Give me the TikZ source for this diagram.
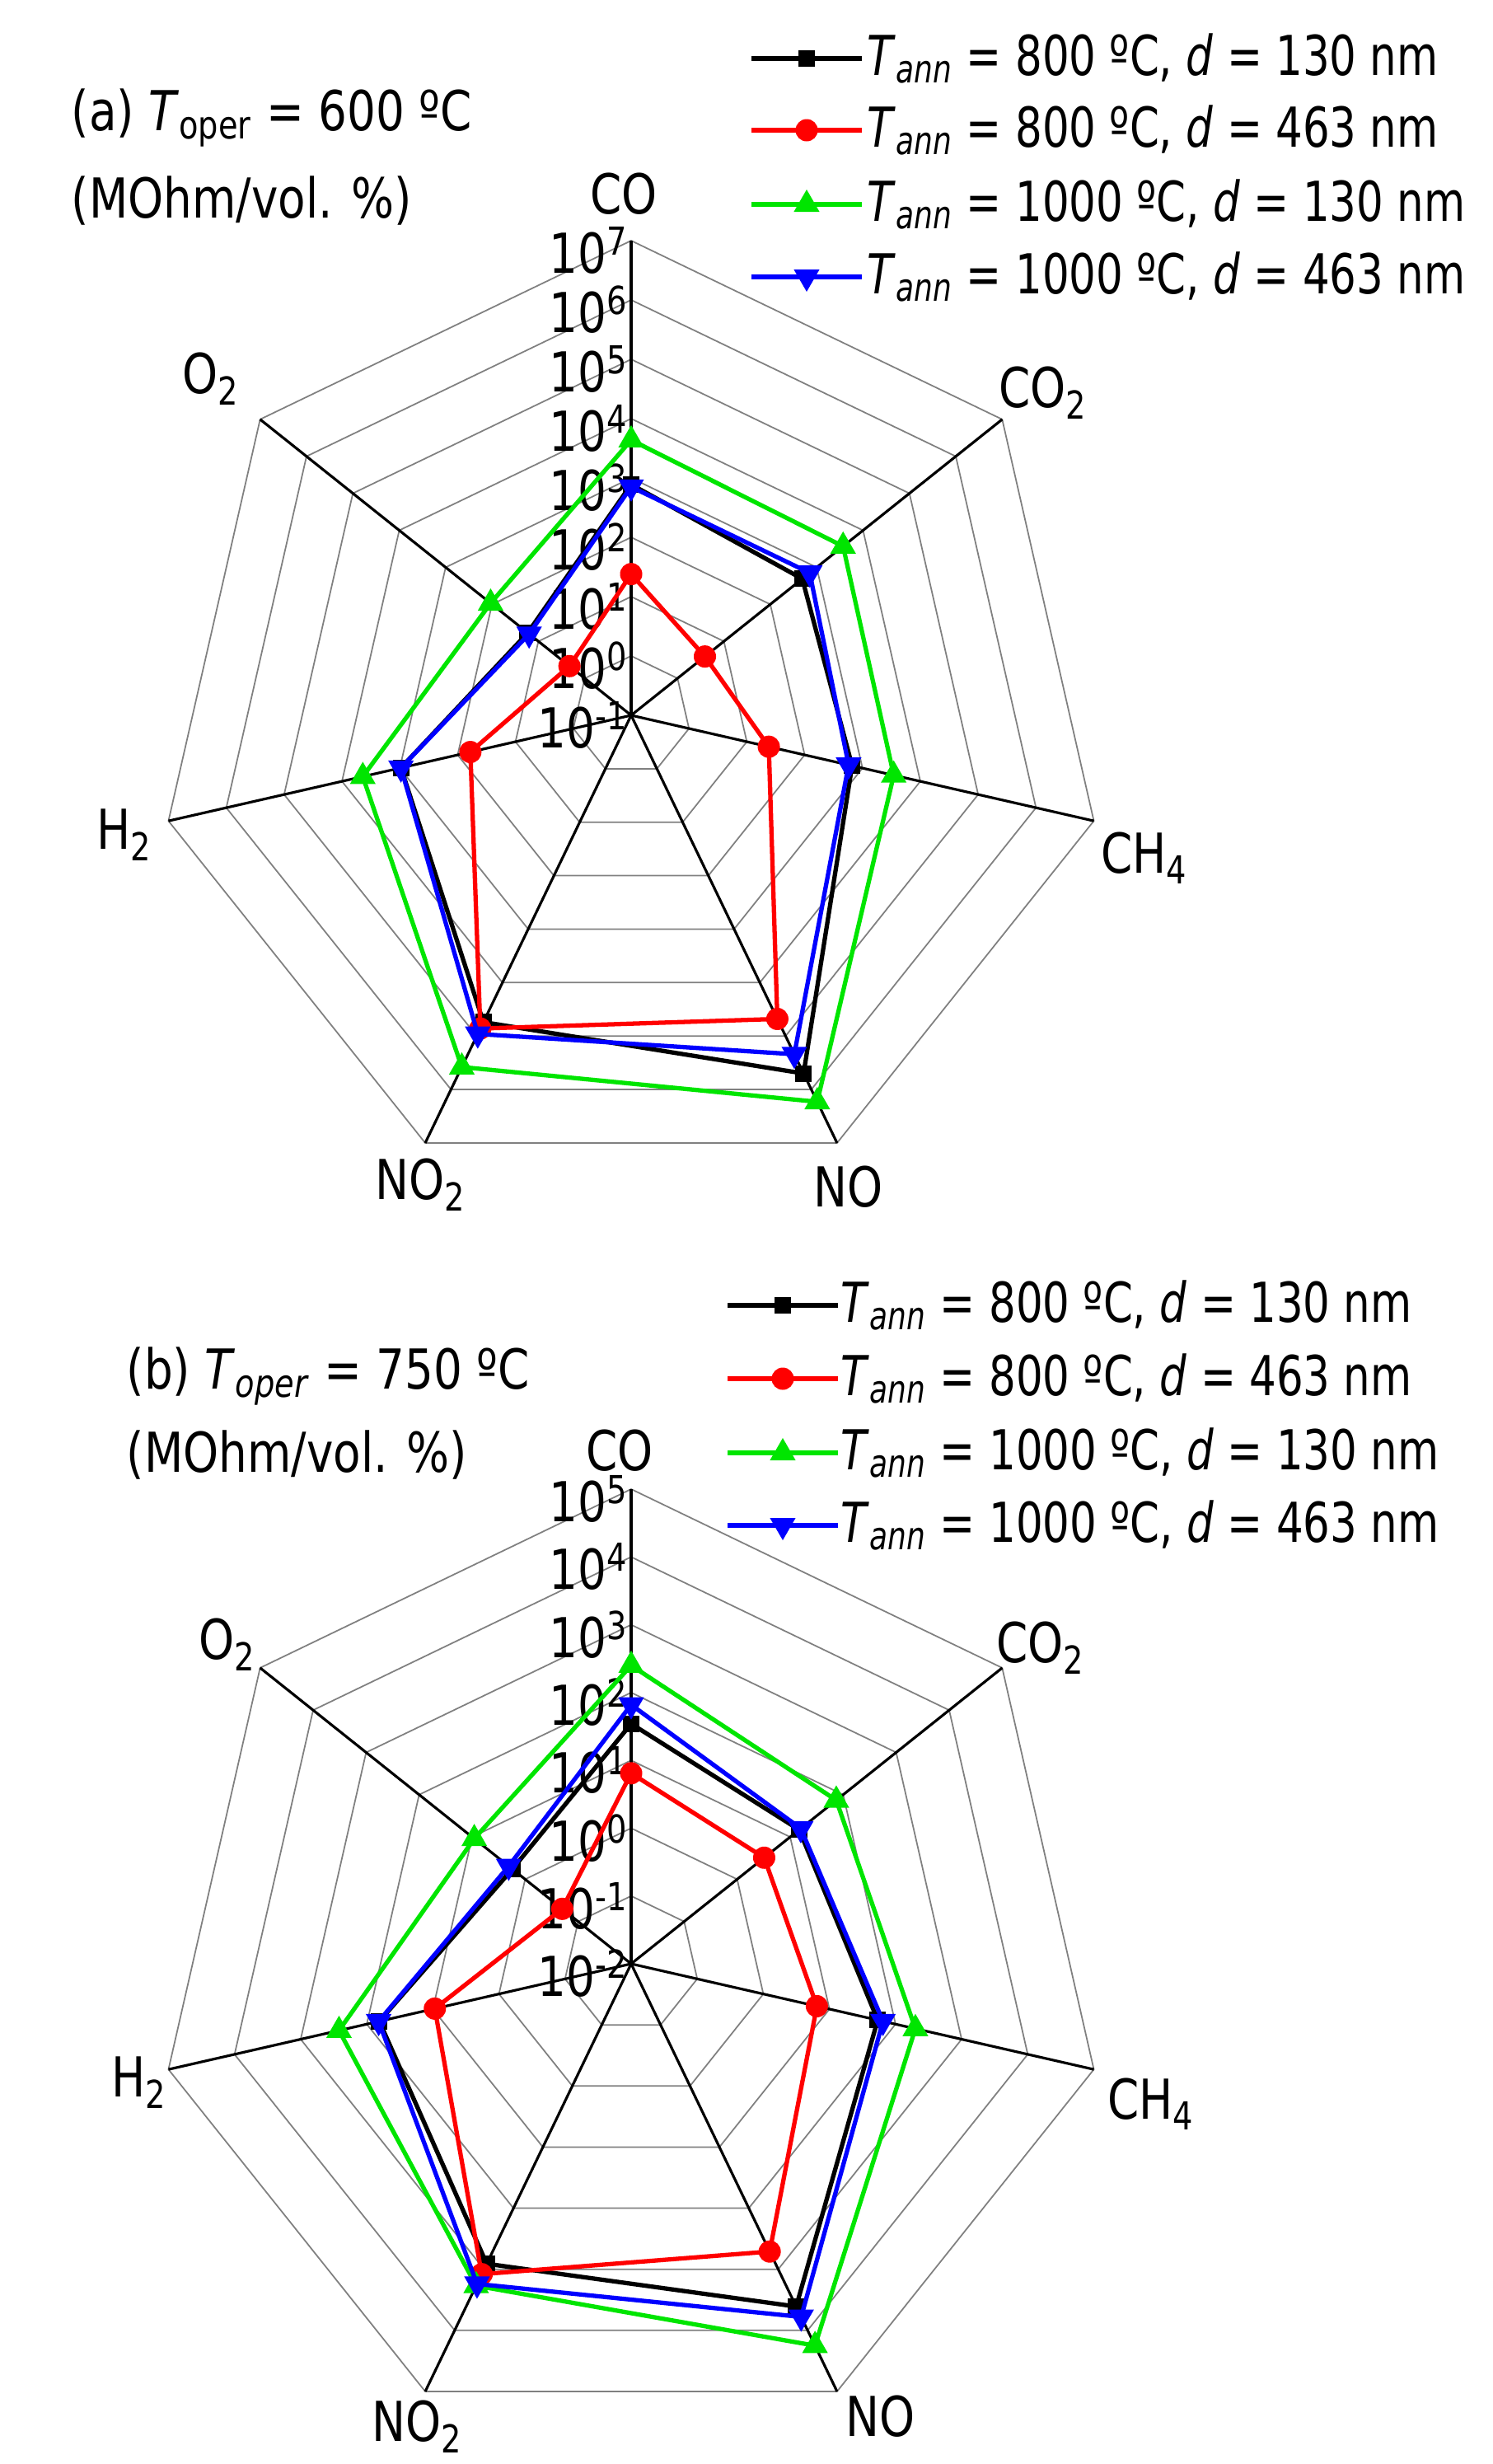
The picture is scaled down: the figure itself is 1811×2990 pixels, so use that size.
\documentclass[tikz,border=0pt]{standalone}
\usepackage{fontspec}
\setmainfont{DejaVu Sans}
\usetikzlibrary{shapes.geometric}
\newcommand\sq[1]{\scalebox{0.82}[1]{#1}}
\newcommand\sqL[1]{\scalebox{0.77}[1]{#1}}
\tikzset{
  lab/.style={font=\fontsize{19}{23}\selectfont, inner sep=0pt},
  gridc/.style={draw=gray, line width=0.5pt},
  axisc/.style={draw=black, line width=0.9pt},
  sb/.style={draw=black, line width=1.5pt, line join=round},
  sr/.style={draw=red, line width=1.5pt, line join=round},
  sg/.style={draw=green!90!black, line width=1.5pt, line join=round},
  su/.style={draw=blue, line width=1.5pt, line join=round},
  sbm/.style={rectangle, fill=black, minimum size=0.2cm, inner sep=0pt},
  srm/.style={circle, fill=red, minimum size=0.27cm, inner sep=0pt},
  sgm/.style={regular polygon, regular polygon sides=3, fill=green!90!black, minimum size=0.36cm, inner sep=0pt},
  sum/.style={regular polygon, regular polygon sides=3, shape border rotate=180, fill=blue, minimum size=0.36cm, inner sep=0pt},
}
\newcommand\myseries[3]{%
  \foreach \v [count=\i from 0] in {#3} {\coordinate (#1\i) at ({90-\i*360/7}:\v);}
  \draw[#2] (#10) -- (#11) -- (#12) -- (#13) -- (#14) -- (#15) -- (#16) -- cycle;
  \foreach \i in {0,...,6} {\node[#2m] at (#1\i) {};}
}
\newcommand\myradar[4]{% #1 prefix, #2 center y, #3 number of decades, #4 lowest exponent
  \begin{scope}[shift={(766,#2)}, x={(576/#3*0.01cm,0)}, y={(0,576/#3*0.01cm)}]
    \coordinate (#1c) at (0,0);
    \foreach \k in {1,...,#3} {
      \draw[gridc] (90:\k) \foreach \i in {1,...,6} { -- ({90-\i*360/7}:\k) } -- cycle;
    }
    \foreach \i in {0,...,6} {
      \coordinate (#1v\i) at ({90-\i*360/7}:#3);
      \draw[axisc] (#1c) -- (#1v\i);
    }
    \foreach \k in {0,...,#3} {
      \pgfmathtruncatemacro\ex{\k+#4}
      \node[lab, anchor=east, xshift=-0.03cm, yshift=-0.12cm] (#1t\k) at (0,\k) {\sq{10\textsuperscript{\ex}}};
    }
  \end{scope}
}
\begin{document}
\begin{tikzpicture}[x=0.01cm, y=-0.01cm]
\useasboundingbox (0,0) rectangle (1811,2990);
% ---------- (a)
\myradar{a}{868}{8}{-1}
\begin{scope}[shift={(766,868)}, x={(72*0.01cm,0)}, y={(0,72*0.01cm)}]
  \myseries{ab}{sb}{3.89,3.69,3.82,6.70,5.74,3.98,2.23}
  \myseries{ar}{sr}{2.38,1.59,2.38,5.68,5.86,2.78,1.33}
  \myseries{ag}{sg}{4.64,4.57,4.54,7.23,6.58,4.64,3.03}
  \myseries{au}{su}{3.85,3.85,3.76,6.34,5.96,3.98,2.20}
\end{scope}
\node[lab] (aCO) at (757,235) {\sq{CO}};
\node[lab] (aCO2) at (1266,477) {\sq{CO\textsubscript{2}}};
\node[lab] (aCH4) at (1389,1041) {\sq{CH\textsubscript{4}}};
\node[lab] (aNO) at (1030,1440) {\sq{NO}};
\node[lab] (aNO2) at (510,1438) {\sq{NO\textsubscript{2}}};
\node[lab] (aH2) at (151,1013) {\sq{H\textsubscript{2}}};
\node[lab] (aO2) at (256,460) {\sq{O\textsubscript{2}}};
\node[lab, anchor=west] (atitle) at (86,143) {\sq{(a) \textit{T}\textsubscript{oper} = 600 ºC}};
\node[lab, anchor=west] (aunit) at (86,244) {\sq{(MOhm/vol. \%)}};
% legend (a)
\foreach \s/\y/\txt in {sb/71/{\textit{T}\textsubscript{\textit{ann}} = 800 ºC, \textit{d} = 130 nm},
                      sr/158/{\textit{T}\textsubscript{\textit{ann}} = 800 ºC, \textit{d} = 463 nm},
                      sg/248/{\textit{T}\textsubscript{\textit{ann}} = 1000 ºC, \textit{d} = 130 nm},
                      su/336/{\textit{T}\textsubscript{\textit{ann}} = 1000 ºC, \textit{d} = 463 nm}} {
  \coordinate (al\s a) at (912,\y);
  \coordinate (al\s b) at (1046,\y);
  \draw[\s] (al\s a) -- (al\s b);
  \node[\s m] at (979,\y) {};
  \node[lab, anchor=west] at (1052,\y) {\sqL{\txt}};
}
% ---------- (b)
\myradar{b}{2383}{7}{-2}
\begin{scope}[shift={(766,2383)}, x={(576/7*0.01cm,0)}, y={(0,576/7*0.01cm)}]
  \myseries{bb}{sb}{3.54,3.17,3.73,5.61,4.91,3.81,2.24}
  \myseries{br}{sr}{2.81,2.51,2.81,4.71,5.08,2.97,1.30}
  \myseries{bg}{sg}{4.40,3.87,4.30,6.25,5.27,4.42,2.96}
  \myseries{bu}{su}{3.82,3.20,3.81,5.78,5.24,3.82,2.31}
\end{scope}
\node[lab] (bCO) at (752,1760) {\sq{CO}};
\node[lab] (bCO2) at (1263,2000) {\sq{CO\textsubscript{2}}};
\node[lab] (bCH4) at (1397,2553) {\sq{CH\textsubscript{4}}};
\node[lab] (bNO) at (1069,2932) {\sq{NO}};
\node[lab] (bNO2) at (506,2945) {\sq{NO\textsubscript{2}}};
\node[lab] (bH2) at (169,2527) {\sq{H\textsubscript{2}}};
\node[lab] (bO2) at (276,1996) {\sq{O\textsubscript{2}}};
\node[lab, anchor=west] (btitle) at (153,1670) {\sq{(b) \textit{T}\textsubscript{\textit{oper}} = 750 ºC}};
\node[lab, anchor=west] (bunit) at (153,1765) {\sq{(MOhm/vol. \%)}};
\foreach \s/\y/\txt in {sb/1584/{\textit{T}\textsubscript{\textit{ann}} = 800 ºC, \textit{d} = 130 nm},
                      sr/1673/{\textit{T}\textsubscript{\textit{ann}} = 800 ºC, \textit{d} = 463 nm},
                      sg/1763/{\textit{T}\textsubscript{\textit{ann}} = 1000 ºC, \textit{d} = 130 nm},
                      su/1851/{\textit{T}\textsubscript{\textit{ann}} = 1000 ºC, \textit{d} = 463 nm}} {
  \coordinate (bl\s a) at (883,\y);
  \coordinate (bl\s b) at (1017,\y);
  \draw[\s] (bl\s a) -- (bl\s b);
  \node[\s m] at (950,\y) {};
  \node[lab, anchor=west] at (1020,\y) {\sqL{\txt}};
}
\end{tikzpicture}
\end{document}
